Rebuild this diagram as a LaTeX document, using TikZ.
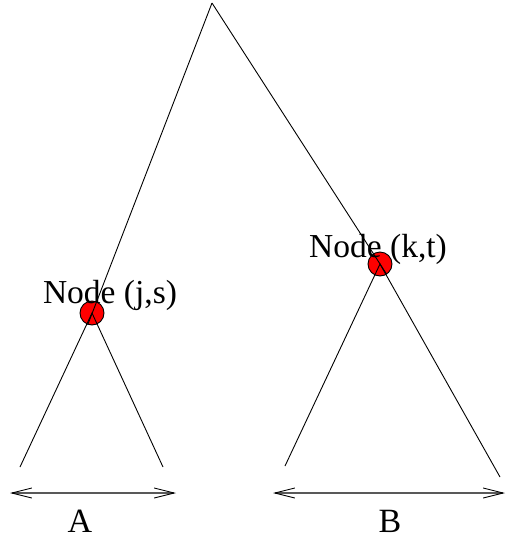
\documentclass[tikz,border=0pt]{standalone}
\usepackage{fontspec}
\setmainfont{Liberation Serif}
\usepackage{tikz}
\usetikzlibrary{arrows.meta, positioning, calc}

\begin{document}
\begin{tikzpicture}[
    x=1pt, y=-1pt,
    split/.style={draw, circle, fill=red, line width=0.9pt, minimum size=24pt, inner sep=0pt},
    branch/.style={line width=0.9pt},
    label/.style={anchor=base, font=\fontsize{33.5}{36}\selectfont, inner sep=0pt},
    group/.style={anchor=base, font=\fontsize{34}{36}\selectfont, inner sep=0pt},
    span/.style={{Straight Barb[length=20pt,width=10pt,line width=0.9pt,black]}-{Straight Barb[length=20pt,width=10pt,line width=0.9pt,black]}, line width=2pt, draw=black!65}
]
    \useasboundingbox (0,0) rectangle (506,542);

    \coordinate (root) at (212,3);
    \node[split] (js) at (92,313) {};
    \node[split] (kt) at (380,264) {};

    \node[label] (jslabel) at (110,303) {Node (j,s)};
    \node[label] (ktlabel) at (378,257) {Node (k,t)};

    \coordinate (a1) at (20,467);
    \coordinate (a2) at (163,467);
    \coordinate (b1) at (285,466);
    \coordinate (b2) at (500,477);

    \draw[branch] (root) -- (js.-110);
    \draw[branch] (root) -- (kt.-57);
    \draw[branch] (a1) -- (js.center) -- (a2);
    \draw[branch] (b1) -- (kt.center) -- (b2);

    \coordinate (al) at (10,493);
    \coordinate (ar) at (176,493);
    \coordinate (bl) at (273,493);
    \coordinate (br) at (505,493);
    \draw[span] (al) -- (ar);
    \draw[span] (bl) -- (br);

    \node[group] (A) at (80,532) {A};
    \node[group] (B) at (390,532) {B};
\end{tikzpicture}
\end{document}
